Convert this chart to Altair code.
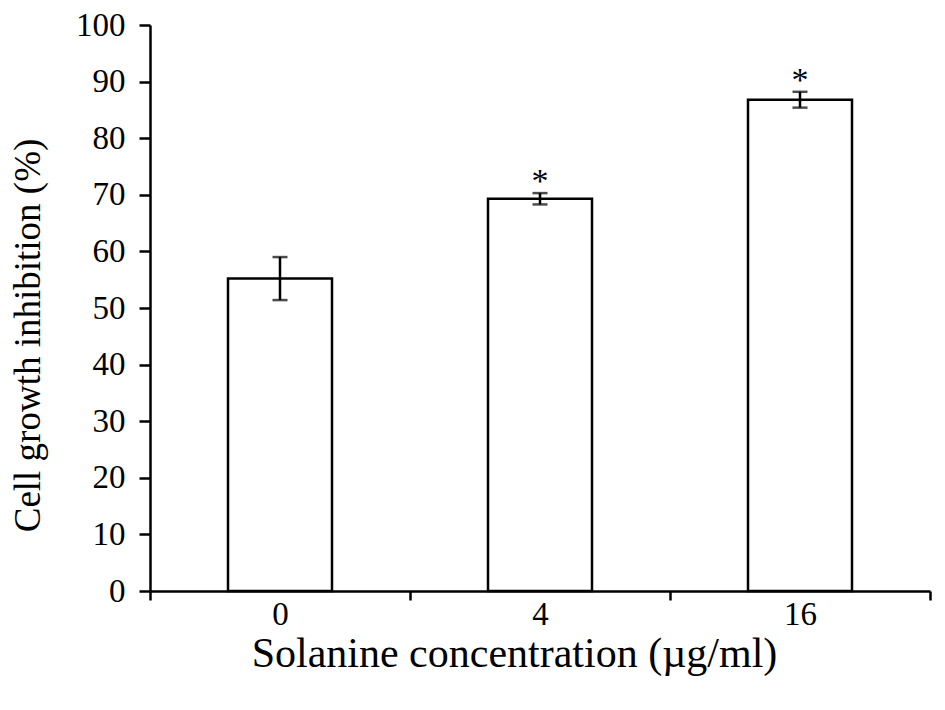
import altair as alt
import pandas as pd

conc = ["0", "4", "16"]
mean = [55.2, 69.3, 86.8]
err = [3.8, 1.0, 1.4]
sig = ["", "*", "*"]
y_ticks = [0, 10, 20, 30, 40, 50, 60, 70, 80, 90, 100]

df = pd.DataFrame({"conc": conc, "mean": mean, "err": err, "sig": sig})
df["lo"] = df["mean"] - df["err"]
df["hi"] = df["mean"] + df["err"]

FONT = "Liberation Serif"
W, H = 780, 566

x_enc = alt.X(
    "conc:N",
    sort=conc,
    scale=alt.Scale(paddingInner=0, paddingOuter=0),
    axis=alt.Axis(
        title="Solanine concentration (µg/ml)",
        labelAngle=0,
        tickBand="extent",
        tickSize=9,
        tickWidth=2.5,
        tickColor="black",
        domainColor="black",
        domainWidth=2.5,
        labelFont=FONT,
        labelFontSize=33,
        labelColor="black",
        labelPadding=-2,
        titleFont=FONT,
        titleFontSize=42,
        titleFontWeight="normal",
        titleColor="black",
        titlePadding=2,
        titleX=364,
    ),
)

y_scale = alt.Scale(domain=[0, 100], nice=False)

bars = alt.Chart(df).mark_bar(
    width={"band": 0.4}, fill="white", stroke="black", strokeWidth=2.5
).encode(
    x=x_enc,
    y=alt.Y(
        "mean:Q",
        scale=y_scale,
        axis=alt.Axis(
            title="Cell growth inhibition (%)",
            values=y_ticks,
            grid=False,
            tickSize=11,
            tickWidth=2.5,
            tickColor="black",
            domainColor="black",
            domainWidth=2.5,
            labelFont=FONT,
            labelFontSize=33,
            labelColor="black",
            labelPadding=14,
            titleFont=FONT,
            titleFontSize=37,
            titleFontWeight="normal",
            titleColor="black",
            titlePadding=28,
            titleY=310,
        ),
    ),
)

rule = alt.Chart(df).mark_rule(color="black", strokeWidth=2.5).encode(
    x=alt.X("conc:N", sort=conc),
    y=alt.Y("lo:Q", scale=y_scale),
    y2="hi:Q",
)

cap_lo = alt.Chart(df).mark_tick(color="black", size=15, thickness=2.5).encode(
    x=alt.X("conc:N", sort=conc),
    y=alt.Y("lo:Q", scale=y_scale),
)
cap_hi = alt.Chart(df).mark_tick(color="black", size=15, thickness=2.5).encode(
    x=alt.X("conc:N", sort=conc),
    y=alt.Y("hi:Q", scale=y_scale),
)

stars = alt.Chart(df).mark_text(
    font=FONT, fontSize=34, color="black", baseline="alphabetic", dy=-1
).encode(
    x=alt.X("conc:N", sort=conc),
    y=alt.Y("hi:Q", scale=y_scale),
    text="sig:N",
)

chart = (
    alt.layer(bars, rule, cap_lo, cap_hi, stars)
    .properties(
        width=W,
        height=H,
        autosize=alt.AutoSizeParams(type="none"),
        padding={"left": 142, "top": 17, "right": 7, "bottom": 100},
        background="white",
    )
    .configure_view(stroke=None)
)

chart.save("out.html", embed_options={"renderer": "svg", "actions": False})
